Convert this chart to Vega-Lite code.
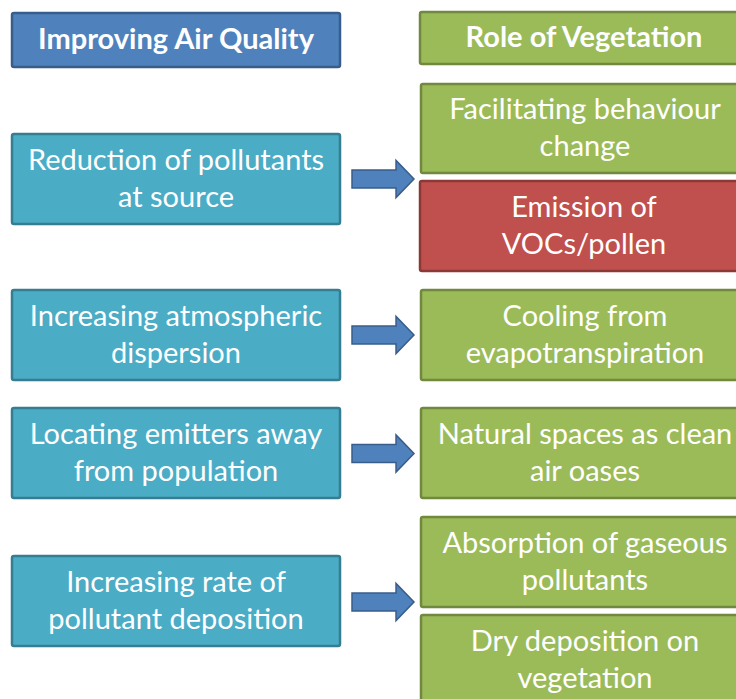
{
  "$schema": "https://vega.github.io/schema/vega-lite/v6.json",
  "width": 736,
  "height": 699,
  "autosize": {"type": "none"},
  "padding": 0,
  "background": "white",
  "config": {"view": {"stroke": null}},
  "datasets": {
    "boxes": [
      {"label": "Improving Air Quality", "kind": "header", "bold": true, "x0": 12, "x1": 340, "y0": 13, "y1": 67},
      {"label": "Reduction of pollutants\nat source", "kind": "action", "bold": false, "x0": 12, "x1": 340, "y0": 134, "y1": 224},
      {"label": "Increasing atmospheric\ndispersion", "kind": "action", "bold": false, "x0": 12, "x1": 340, "y0": 290, "y1": 380},
      {"label": "Locating emitters away\nfrom population", "kind": "action", "bold": false, "x0": 12, "x1": 340, "y0": 408, "y1": 498},
      {"label": "Increasing rate of\npollutant deposition", "kind": "action", "bold": false, "x0": 12, "x1": 340, "y0": 556, "y1": 646},
      {"label": "Role of Vegetation", "kind": "role", "bold": true, "x0": 420, "x1": 748, "y0": 12, "y1": 64},
      {"label": "Facilitating behaviour\nchange", "kind": "role", "bold": false, "x0": 421, "x1": 749, "y0": 84, "y1": 173},
      {"label": "Emission of\nVOCs/pollen", "kind": "negative", "bold": false, "x0": 420, "x1": 748, "y0": 181, "y1": 271},
      {"label": "Cooling from\nevapotranspiration", "kind": "role", "bold": false, "x0": 421, "x1": 749, "y0": 290, "y1": 380},
      {"label": "Natural spaces as clean\nair oases", "kind": "role", "bold": false, "x0": 421, "x1": 749, "y0": 408, "y1": 498},
      {"label": "Absorption of gaseous\npollutants", "kind": "role", "bold": false, "x0": 421, "x1": 749, "y0": 517, "y1": 607},
      {"label": "Dry deposition on\nvegetation", "kind": "role", "bold": false, "x0": 421, "x1": 749, "y0": 615, "y1": 705}
    ],
    "arrows": [
      {"x": 383, "y": 179},
      {"x": 383, "y": 335},
      {"x": 383, "y": 453.5},
      {"x": 383, "y": 602}
    ]
  },
  "layer": [
    {
      "data": {"name": "boxes"},
      "mark": {"type": "rect", "strokeWidth": 2.5, "cornerRadius": 2, "clip": true},
      "encoding": {
        "x": {"field": "x0", "type": "quantitative", "scale": {"domain": [0, 736], "nice": false, "zero": false}, "axis": null},
        "x2": {"field": "x1"},
        "y": {"field": "y0", "type": "quantitative", "scale": {"domain": [699, 0], "nice": false, "zero": false}, "axis": null},
        "y2": {"field": "y1"},
        "fill": {"field": "kind", "type": "nominal", "scale": {"domain": ["header", "action", "role", "negative"], "range": ["#4f81bd", "#4bacc6", "#9bbb59", "#c0504d"]}, "legend": null},
        "stroke": {"field": "kind", "type": "nominal", "scale": {"domain": ["header", "action", "role", "negative"], "range": ["#385d8a", "#357d91", "#71893f", "#8c3836"]}, "legend": null}
      }
    },
    {
      "data": {"name": "boxes"},
      "transform": [
        {"filter": "!datum.bold"},
        {"calculate": "(datum.x0 + datum.x1) / 2", "as": "cx"},
        {"calculate": "(datum.y0 + datum.y1) / 2", "as": "cy"}
      ],
      "mark": {"type": "text", "font": "Lato", "fontSize": 29, "color": "white", "lineBreak": "\n", "lineHeight": 37, "align": "center", "baseline": "middle", "dy": -18.5},
      "encoding": {
        "x": {"field": "cx", "type": "quantitative"},
        "y": {"field": "cy", "type": "quantitative"},
        "text": {"field": "label"}
      }
    },
    {
      "data": {"name": "boxes"},
      "transform": [
        {"filter": "datum.bold"},
        {"calculate": "(datum.x0 + datum.x1) / 2", "as": "cx"},
        {"calculate": "(datum.y0 + datum.y1) / 2", "as": "cy"}
      ],
      "mark": {"type": "text", "font": "Lato", "fontSize": 29, "fontWeight": "bold", "color": "white", "align": "center", "baseline": "middle"},
      "encoding": {
        "x": {"field": "cx", "type": "quantitative"},
        "y": {"field": "cy", "type": "quantitative"},
        "text": {"field": "label"}
      }
    },
    {
      "data": {"name": "arrows"},
      "mark": {
        "type": "point",
        "filled": true,
        "shape": "M -1 -0.29 L 0.42 -0.29 L 0.42 -0.6 L 1 0 L 0.42 0.6 L 0.42 0.29 L -1 0.29 Z",
        "size": 3844,
        "fill": "#4f81bd",
        "stroke": "#385d8a",
        "strokeWidth": 1.5,
        "opacity": 1
      },
      "encoding": {
        "x": {"field": "x", "type": "quantitative"},
        "y": {"field": "y", "type": "quantitative"}
      }
    }
  ]
}
